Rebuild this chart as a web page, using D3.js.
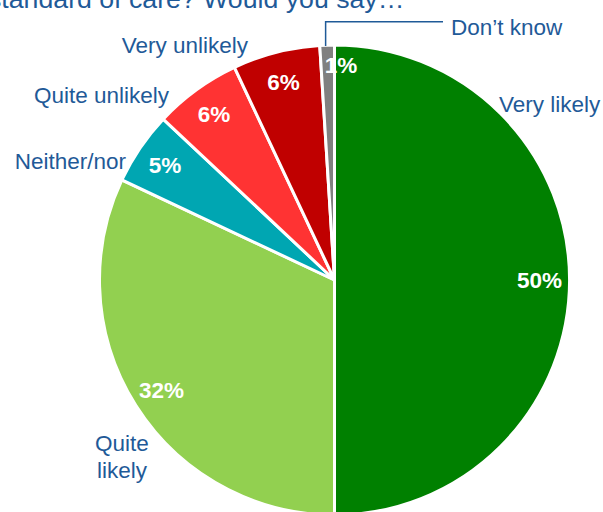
<!DOCTYPE html>
<html>
<head>
<meta charset="utf-8">
<script src="https://cdn.jsdelivr.net/npm/d3@7/dist/d3.min.js"></script>
<style>
  html, body { margin: 0; padding: 0; background: #ffffff; overflow: hidden; }
  svg { display: block; }
  text { font-family: Arial, "Liberation Sans", Helvetica, sans-serif; }
</style>
</head>
<body>
<svg id="chart" width="603" height="512"></svg>
<script>
// Survey answers, clockwise from 12 o'clock
const categories = ["Very likely", "Quite likely", "Neither/nor", "Quite unlikely", "Very unlikely", "Don\u2019t know"];
const shares = [50, 32, 5, 6, 6, 1];
const sliceColors = ["#008000", "#92d050", "#00a6b2", "#ff3333", "#c00000", "#808080"];

const titleText = "standard of care? Would you say\u2026";

const W = 603, H = 512;
const cx = 334.5, cy = 280, R = 235;
const labelBlue = "#1f5a98";

const svg = d3.select("#chart");

// question text (upper line scrolled off the top)
svg.append("text")
  .attr("x", -12).attr("y", 8)
  .attr("fill", labelBlue)
  .attr("font-size", 26.7)
  .text(titleText);

const pie = d3.pie().sort(null).value(d => d.v).startAngle(0).endAngle(2 * Math.PI);
const data = categories.map((c, i) => ({ name: c, v: shares[i], color: sliceColors[i] }));
const arcs = pie(data);

const arc = d3.arc().innerRadius(0).outerRadius(R);
const labelArc = d3.arc().innerRadius(205).outerRadius(205);

const g = svg.append("g").attr("transform", `translate(${cx},${cy})`);

g.selectAll("path.slice")
  .data(arcs)
  .join("path")
  .attr("class", "slice")
  .attr("d", arc)
  .attr("fill", d => d.data.color)
  .attr("stroke", "#ffffff")
  .attr("stroke-width", 3)
  .attr("stroke-linejoin", "miter");

// percentage labels inside the slices
const pctOffset = { "Don\u2019t know": [13, -10] };
g.selectAll("text.pct")
  .data(arcs)
  .join("text")
  .attr("class", "pct")
  .attr("transform", d => {
    const [x, y] = labelArc.centroid(d);
    const o = pctOffset[d.data.name] || [0, 0];
    return `translate(${x + o[0]},${y + o[1]})`;
  })
  .attr("text-anchor", "middle")
  .attr("dy", "0.36em")
  .attr("fill", "#ffffff")
  .attr("font-weight", "bold")
  .attr("font-size", 22.5)
  .text(d => d3.format("d")(d.data.v) + "%");

// category labels around the pie
const catPos = {
  "Very likely":     { x: 499, y: 112, anchor: "start" },
  "Quite likely":    { x: 122, y: 451, anchor: "middle", lines: ["Quite", "likely"] },
  "Neither/nor":     { x: 126, y: 168.5, anchor: "end" },
  "Quite unlikely":  { x: 169, y: 103, anchor: "end" },
  "Very unlikely":   { x: 248, y: 52.5, anchor: "end" },
  "Don\u2019t know": { x: 451, y: 35, anchor: "start" }
};

const cat = svg.append("g").attr("fill", labelBlue).attr("font-size", 22.5);
data.forEach(d => {
  const p = catPos[d.name];
  const t = cat.append("text")
    .attr("x", p.x).attr("y", p.y)
    .attr("text-anchor", p.anchor);
  const lines = p.lines || [d.name];
  lines.forEach((ln, i) => {
    t.append("tspan").attr("x", p.x).attr("dy", i === 0 ? 0 : 27).text(ln);
  });
});

// leader line for the smallest slice
const dk = arcs[arcs.length - 1];
const dkMid = (dk.startAngle + dk.endAngle) / 2;
const edgeX = cx + R * Math.sin(dkMid) - 1.5;
const edgeY = cy - R * Math.cos(dkMid) + 1;
svg.append("path")
  .attr("d", d3.line()([[edgeX, edgeY], [edgeX, 21.7], [443, 21.7]]))
  .attr("fill", "none")
  .attr("stroke", labelBlue)
  .attr("stroke-width", 1.5);
</script>
</body>
</html>
